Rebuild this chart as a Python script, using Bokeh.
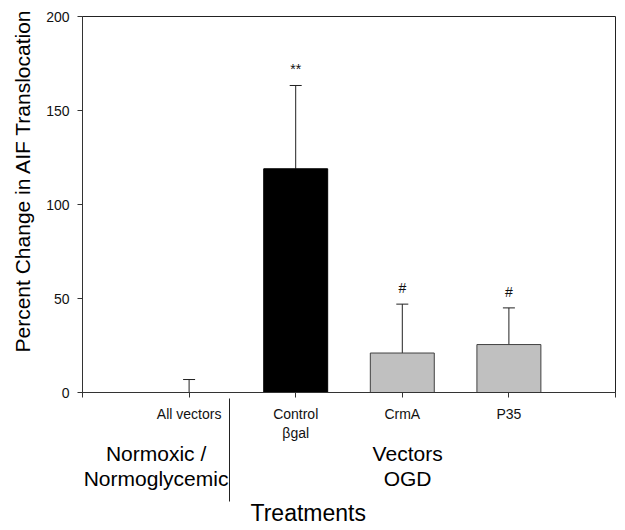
from bokeh.plotting import figure
from bokeh.models import (ColumnDataSource, FixedTicker, Whisker, TeeHead, Title,
                          LinearAxis, Range1d)
from bokeh.core.properties import value
from bokeh.embed import file_html
from bokeh.resources import INLINE

# ---- data ----
categories = ["All vectors", "Control\n\u03b2gal", "CrmA", "P35"]
means = [0.0, 119.0, 21.0, 25.5]
errors = [6.9, 44.3, 26.0, 19.5]
bar_colors = ["#c0c0c0", "#000000", "#c0c0c0", "#c0c0c0"]
bar_lines = ["#404040", "#000000", "#404040", "#404040"]
sig_marks = ["", "**", "#", "#"]
y_ticks = [0, 50, 100, 150, 200]
group_labels = ["Normoxic /\nNormoglycemic", "Vectors\nOGD"]
group_centers = [0.69, 3.05]      # x positions (category units) of group captions
group_divider = [1.38]            # boundary between the two groups
y_title = "Percent Change in AIF Translocation"
x_title = "Treatments"

FONT = "Liberation Sans"

xs = [i + 1 for i in range(len(categories))]
upper = [m + e for m, e in zip(means, errors)]
src = ColumnDataSource(dict(x=xs, top=means, upper=upper, color=bar_colors,
                            line=bar_lines, sig=sig_marks,
                            base=[0] * len(xs)))

p = figure(width=617, height=528, output_backend="svg", toolbar_location=None,
           title=None,
           x_range=Range1d(0, len(categories) + 1), y_range=Range1d(0, 200),
           min_border_left=81, min_border_right=2, min_border_top=16,
           min_border_bottom=136)
p.grid.visible = False
p.background_fill_color = "white"
p.border_fill_color = "white"
p.outline_line_color = "#222222"
p.outline_line_width = 1

p.vbar(x="x", top="top", bottom="base", width=0.6, source=src,
       fill_color="color", line_color="line", line_width=1)

wh = Whisker(base="x", lower="top", upper="upper", source=src,
             line_color="#222222", line_width=1,
             upper_head=TeeHead(size=12, line_color="#222222", line_width=1),
             lower_head=None)
p.add_layout(wh)

p.text(x="x", y="upper", text="sig", source=src, y_offset=-16,
       text_align="center", text_baseline="middle",
       text_font=value(FONT), text_font_size="14px", text_color="#111111")

# main x axis
ticks = list(range(0, len(categories) + 2))
overrides = {0: "", len(categories) + 1: ""}
for xv, c in zip(xs, categories):
    overrides[xv] = c
p.xaxis.ticker = FixedTicker(ticks=ticks)
p.xaxis.major_label_overrides = overrides
p.xaxis.minor_tick_line_color = None
p.xaxis.major_tick_in = 0
p.xaxis.major_tick_out = 5
p.xaxis.major_label_standoff = 8
p.xaxis.major_label_text_font = FONT
p.xaxis.major_label_text_font_size = "14px"
p.xaxis.major_label_text_color = "#111111"
p.xaxis.major_label_text_line_height = 1.22
p.xaxis.axis_line_color = "#333333"
p.xaxis.major_tick_line_color = "#333333"

p.yaxis.ticker = FixedTicker(ticks=y_ticks)
p.yaxis.minor_tick_line_color = None
p.yaxis.major_tick_in = 0
p.yaxis.major_tick_out = 5
p.yaxis.major_label_standoff = 8
p.yaxis.major_label_text_font = FONT
p.yaxis.major_label_text_font_size = "14px"
p.yaxis.major_label_text_color = "#111111"
p.yaxis.axis_line_color = "#333333"
p.yaxis.major_tick_line_color = "#333333"

# group captions as a second, line-less axis below
gax = LinearAxis(ticker=FixedTicker(ticks=group_centers),
                 major_label_overrides={c: t for c, t in zip(group_centers, group_labels)},
                 axis_line_color=None, major_tick_line_color=None,
                 minor_tick_line_color=None, major_tick_in=0, major_tick_out=0,
                 major_label_standoff=-3,
                 major_label_text_font=FONT, major_label_text_font_size="21px",
                 major_label_text_color="#000000",
                 major_label_text_line_height=1.1)
p.add_layout(gax, "below")

# divider between the groups: a label-less axis whose single tick reaches up
dax = LinearAxis(ticker=FixedTicker(ticks=group_divider),
                 major_label_overrides={group_divider[0]: ""},
                 major_label_text_font_size="1px", major_label_standoff=0,
                 axis_line_color=None, minor_tick_line_color=None,
                 major_tick_line_color="#222222", major_tick_in=94,
                 major_tick_out=9)
p.add_layout(dax, "below")

# titles
p.add_layout(Title(text=x_title, text_font=FONT, text_font_size="23px",
                   text_font_style="normal", text_color="#000000",
                   align="left", offset=168, standoff=-8), "below")
p.add_layout(Title(text=y_title, text_font=FONT, text_font_size="21px",
                   text_font_style="normal", text_color="#000000",
                   align="left", vertical_align="middle",
                   offset=40, standoff=18), "left")

open("out.html", "w").write(file_html(p, INLINE))
